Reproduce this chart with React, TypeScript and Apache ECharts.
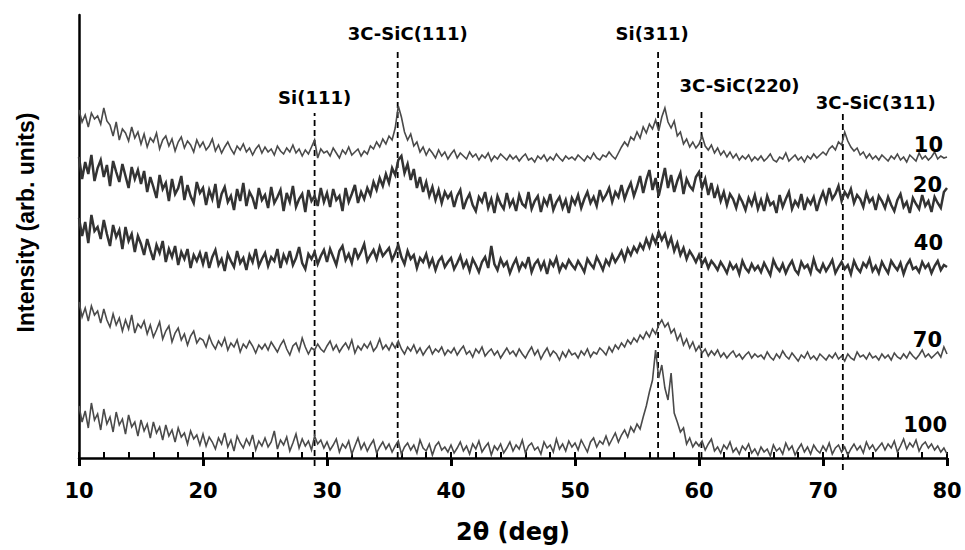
import React, { useEffect, useRef } from "react";
import * as echarts from "echarts";

// XRD scan grid (2θ, degrees)
const scanStart = 10;
const scanStep = 0.25;

const sampleNames = ["10", "20", "40", "70", "100"];

// Intensities (arb. units, offset per sample) on the scan grid, 10° → 80°
const counts10 = [
  348, 336, 343, 331, 345, 339, 342, 334, 350, 337, 333, 322, 336, 318, 329, 325, 317, 331, 320, 326,
  314, 324, 311, 320, 316, 325, 309, 318, 322, 312, 319, 307, 316, 321, 310, 317, 313, 306, 318, 311,
  316, 308, 312, 319, 307, 313, 305, 311, 316, 309, 304, 312, 308, 314, 306, 310, 303, 309, 313, 305,
  311, 306, 309, 303, 312, 307, 304, 310, 306, 313, 305, 309, 302, 308, 304, 311, 318, 300, 309, 305,
  307, 302, 310, 305, 300, 308, 304, 311, 303, 306, 309, 302, 307, 304, 312, 309, 316, 311, 319, 314,
  322, 318, 330, 352, 341, 326, 318, 324, 312, 316, 306, 311, 303, 309, 305, 300, 308, 302, 306, 299,
  304, 308, 300, 305, 302, 299, 306, 301, 304, 298, 303, 300, 305, 297, 302, 299, 304, 301, 298, 303,
  299, 302, 297, 301, 304, 298, 300, 296, 302, 299, 303, 297, 301, 298, 304, 300, 297, 302, 299, 301,
  298, 303, 300, 297, 302, 299, 305, 300, 298, 303, 301, 306, 302, 299, 305, 311, 316, 312, 321, 318,
  326, 320, 331, 325, 334, 329, 338, 327, 341, 350, 336, 330, 337, 322, 326, 314, 319, 311, 316, 310,
  314, 322, 312, 308, 313, 305, 310, 303, 307, 301, 306, 300, 304, 298, 302, 299, 303, 297, 301, 298,
  302, 297, 300, 304, 298, 296, 301, 299, 305, 297, 300, 303, 298, 301, 296, 302, 299, 304, 300, 303,
  306, 303, 309, 312, 308, 316, 313, 326, 317, 311, 307, 310, 303, 306, 300, 304, 299, 302, 298, 303,
  300, 297, 302, 299, 304, 298, 301, 296, 303, 300, 297, 305, 299, 302, 298, 301, 306, 299, 302, 300,
  301,
];

const counts20 = [
  301, 279, 296, 284, 303, 277, 290, 298, 281, 293, 272, 297, 286, 276, 294, 282, 270, 291, 279, 288,
  274, 287, 266, 281, 271, 260, 283, 269, 275, 257, 279, 264, 270, 282, 258, 273, 262, 255, 276, 265,
  270, 253, 268, 259, 274, 250, 264, 271, 256, 262, 248, 269, 257, 275, 252, 266, 260, 249, 270, 258,
  263, 250, 271, 255, 261, 268, 247, 265, 256, 272, 251, 259, 264, 246, 268, 257, 262, 252, 270, 256,
  265, 251, 269, 258, 262, 247, 270, 256, 264, 273, 255, 266, 259, 270, 263, 276, 268, 280, 272, 284,
  275, 290, 283, 298, 302, 285, 294, 278, 289, 270, 281, 266, 276, 262, 271, 258, 268, 255, 266, 260,
  265, 251, 262, 268, 249, 258, 264, 253, 247, 261, 256, 266, 250, 259, 245, 262, 254, 249, 265, 252,
  258, 247, 263, 254, 251, 266, 249, 257, 262, 246, 259, 253, 264, 248, 256, 261, 250, 258, 245, 260,
  254, 263, 250, 259, 266, 255, 261, 252, 268, 258, 263, 270, 256, 266, 261, 273, 259, 268, 275, 262,
  271, 282, 265, 278, 288, 268, 280, 262, 276, 290, 270, 283, 266, 277, 285, 264, 279, 272, 268, 281,
  286, 270, 279, 263, 275, 260, 270, 257, 266, 253, 264, 259, 250, 262, 256, 248, 260, 253, 263, 249,
  258, 247, 262, 253, 256, 245, 263, 251, 259, 266, 249, 257, 252, 264, 248, 259, 254, 261, 247, 258,
  266, 256, 270, 259, 264, 272, 257, 266, 261, 269, 255, 263, 259, 251, 265, 256, 260, 248, 262, 257,
  250, 261, 253, 247, 258, 264, 251, 256, 245, 260, 254, 249, 263, 252, 257, 246, 261, 255, 250, 266,
  270,
];

const counts40 = [
  240, 222, 236, 215, 243, 227, 231, 219, 238, 224, 212, 233, 221, 228, 209, 231, 217, 224, 206, 222,
  214, 203, 219, 208, 198, 213, 205, 217, 196, 209, 201, 212, 193, 206, 199, 209, 190, 203, 197, 205,
  194, 206, 190, 201, 208, 193, 199, 187, 204, 197, 191, 207, 195, 200, 188, 203, 196, 209, 192, 199,
  205, 192, 201, 197, 209, 190, 203, 196, 207, 193, 200, 211, 195, 189, 204, 199, 206, 194, 202, 208,
  196, 209, 201, 193, 207, 212, 198, 204, 195, 210, 200, 206, 214, 197, 203, 208, 199, 211, 202, 206,
  210, 198, 205, 213, 201, 194, 207, 199, 203, 190, 200, 196, 204, 192, 199, 188, 197, 201, 191, 196,
  200, 189, 195, 202, 191, 197, 187, 199, 193, 186, 196, 201, 190, 212, 194, 188, 199, 192, 196, 185,
  193, 199, 188, 195, 191, 201, 186, 194, 198, 189, 196, 184, 197, 192, 200, 187, 194, 190, 198, 193,
  189, 197, 192, 186, 199, 194, 190, 201, 195, 188, 198, 193, 203, 196, 201, 207, 198, 209, 203, 211,
  206, 214, 209, 219, 211, 222, 215, 226, 218, 224, 212, 220, 207, 215, 203, 210, 199, 207, 202, 196,
  203, 194, 199, 190, 197, 193, 188, 196, 191, 185, 195, 189, 193, 184, 197, 190, 186, 194, 188, 192,
  186, 195, 189, 183, 198, 191, 187, 194, 185, 192, 197, 188, 184, 196, 190, 193, 185, 199, 189, 186,
  194, 187, 192, 198, 185, 191, 196, 189, 193, 184, 197, 190, 186, 195, 191, 199, 187, 192, 185, 196,
  190, 185, 197, 192, 188, 195, 184, 193, 198, 189, 191, 186, 196, 190, 194, 185, 192, 197, 188, 193,
  191,
];

const counts70 = [
  156, 141, 150, 137, 152, 143, 147, 135, 149, 138, 131, 144, 133, 140, 127, 138, 129, 143, 125, 134,
  130, 137, 124, 133, 121, 128, 136, 119, 127, 132, 116, 125, 130, 118, 124, 113, 122, 127, 115, 120,
  118, 111, 122, 114, 109, 117, 112, 120, 108, 115, 111, 118, 106, 114, 110, 117, 112, 105, 113, 109,
  114, 108, 116, 111, 106, 113, 118, 109, 103, 112, 115, 107, 120, 111, 104, 110, 108, 114, 109, 106,
  112, 117, 108, 113, 106, 111, 115, 109, 118, 105, 112, 108, 114, 110, 116, 107, 111, 119, 109, 113,
  108, 115, 110, 117, 109, 104, 111, 107, 113, 105, 110, 103, 108, 112, 104, 109, 106, 111, 103, 108,
  105, 110, 103, 108, 112, 104, 107, 101, 109, 105, 111, 102, 106, 109, 103, 107, 100, 105, 110, 104,
  107, 102, 109, 104, 100, 106, 111, 103, 108, 99, 105, 110, 102, 107, 104, 98, 106, 101, 108, 103,
  105, 100, 107, 103, 109, 101, 106, 104, 110, 107, 103, 111, 106, 113, 109, 115, 111, 118, 114, 120,
  116, 123, 119, 126, 121, 129, 124, 133, 138, 131, 135, 125, 129, 118, 124, 113, 119, 110, 116, 107,
  112, 105, 109, 102, 107, 103, 108, 101, 105, 100, 104, 107, 101, 104, 99, 103, 106, 100, 104, 101,
  103, 99, 106, 101, 98, 104, 100, 107, 102, 99, 105, 101, 97, 103, 100, 106, 99, 102, 98, 104,
  101, 98, 103, 100, 105, 99, 102, 97, 104, 100, 98, 106, 101, 103, 99, 105, 100, 102, 98, 104,
  100, 103, 98, 105, 101, 99, 104, 100, 106, 102, 99, 103, 108, 101, 104, 100, 103, 106, 101, 111,
  104,
];

const counts100 = [
  52, 36, 47, 30, 55, 38, 44, 28, 49, 34, 41, 26, 46, 33, 39, 24, 43, 31, 36, 22,
  38, 27, 34, 20, 36, 25, 31, 18, 33, 22, 28, 16, 30, 21, 25, 14, 27, 19, 23, 13,
  24, 12, 21, 16, 9, 20, 14, 25, 11, 18, 7, 22, 15, 10, 19, 13, 23, 8, 17, 12,
  20, 11, 16, 27, 9, 18, 13, 21, 7, 15, 24, 10, 19, 12, 17, 8, 22, 14, 18, 10,
  16, 8, 13, 19, 6, 14, 10, 17, 4, 12, 20, 9, 15, 7, 13, 18, 5, 11, 16, 9,
  14, 6, 12, 17, 4, 11, 15, 8, 13, 5, 18, 10, 7, 14, 3, 12, 16, 8, 11, 6,
  13, 5, 10, 16, 7, 12, 4, 14, 9, 17, 6, 11, 15, 3, 12, 8, 14, 5, 10, 16,
  7, 13, 9, 18, 5, 12, 15, 8, 11, 4, 16, 10, 13, 6, 19, 9, 14, 7, 17, 11,
  15, 8, 18, 12, 6, 16, 20, 11, 17, 14, 22, 13, 19, 25, 16, 23, 28, 21, 31, 26,
  34, 29, 41, 52, 66, 78, 108, 80, 93, 70, 58, 85, 45, 36, 26, 30, 14, 20, 11, 16,
  12, 17, 8, 14, 19, 7, 11, 5, 13, 9, 16, 6, 10, 4, 12, 8, 14, 5, 9, 3,
  11, 6, 9, 2, 13, 7, 10, 4, 15, 8, 12, 3, 9, 14, 6, 11, 4, 13, 8, 5,
  12, 7, 15, 4, 10, 13, 6, 11, 3, 9, 14, 8, 12, 5, 16, 9, 13, 7, 11, 15,
  8, 14, 10, 17, 6, 12, 19, 9, 15, 11, 18, 7, 13, 16, 10, 14, 8, 12, 6, 10,
  4,
];

const sampleCounts = [counts10, counts20, counts40, counts70, counts100];

// Reference reflections
const peakNames = ["Si(111)", "3C-SiC(111)", "Si(311)", "3C-SiC(220)", "3C-SiC(311)"];
const peakAngles = [29.0, 35.7, 56.7, 60.2, 71.6];
const peakLineTops = [345, 409, 408, 350, 345];
const peakLineBottoms = [-8, 0, 0, 0, -12];

// Presentation
const traceWidths = [1.6, 2.5, 2.5, 1.6, 1.6];
const traceColors = ["#4a4a4a", "#333333", "#333333", "#4a4a4a", "#4a4a4a"];
const endLabelOffsets = [[-4, -12], [-5, -3], [-4, -24], [-5, -14], [0, -29]];
const peakLabelOffsets = [[0, -7], [10, -7], [-6, -8], [38, -14], [33, -2]];

const boldWide = { fontFamily: "DejaVu Sans", fontWeight: "bold" as const, color: "#000" };

export default function App() {
  const ref = useRef<HTMLDivElement>(null);

  useEffect(() => {
    if (!ref.current) return;
    const chart = echarts.init(ref.current, undefined, { renderer: "svg" });

    const traces = sampleNames.map((name, k) => ({
      name,
      type: "line" as const,
      xAxisIndex: 0,
      yAxisIndex: 0,
      showSymbol: false,
      z: 3,
      lineStyle: { width: traceWidths[k], color: traceColors[k], join: "miter" },
      data: sampleCounts[k].map((v, i) => [scanStart + i * scanStep, v]),
      endLabel: {
        show: true,
        formatter: name,
        distance: 0,
        align: "right",
        verticalAlign: "middle",
        offset: endLabelOffsets[k],
        fontSize: 21,
        ...boldWide,
      },
    }));

    const peakLines = peakNames.map((name, k) => ({
      name,
      type: "line" as const,
      xAxisIndex: 0,
      yAxisIndex: 0,
      clip: false,
      z: 2,
      showSymbol: true,
      symbolSize: 0,
      lineStyle: { type: [6, 4], width: 1.8, color: "#000" },
      data: [
        { value: [peakAngles[k], peakLineBottoms[k]], label: { show: false } },
        {
          value: [peakAngles[k], peakLineTops[k]],
          label: {
            show: true,
            formatter: name,
            position: "top",
            distance: 0,
            offset: peakLabelOffsets[k],
            fontSize: 18,
            ...boldWide,
          },
        },
      ],
    }));

    chart.setOption({
      animation: false,
      backgroundColor: "#fff",
      grid: { left: 79, right: 18, top: 15, bottom: 92, containLabel: false, outerBoundsMode: "none" },
      xAxis: [
        {
          type: "value",
          position: "bottom",
          min: 10,
          max: 80,
          interval: 10,
          axisLine: { show: true, onZero: false, lineStyle: { color: "#000", width: 2.5 } },
          axisTick: { show: true, inside: false, length: 8, lineStyle: { color: "#000", width: 3 } },
          axisLabel: { fontSize: 21, margin: 22, ...boldWide },
          splitLine: { show: false },
          name: "2θ (deg)",
          nameLocation: "middle",
          nameGap: 62,
          nameTextStyle: { fontSize: 24, ...boldWide },
        },
        {
          type: "value",
          position: "bottom",
          min: 10,
          max: 80,
          interval: 2,
          axisLine: { show: false, onZero: false },
          axisTick: { show: true, inside: true, length: 6, lineStyle: { color: "#000", width: 2 } },
          axisLabel: { show: false },
          splitLine: { show: false },
        },
      ],
      yAxis: {
        type: "value",
        min: 0,
        max: 443,
        axisLine: { show: true, onZero: false, lineStyle: { color: "#000", width: 2.5 } },
        axisTick: { show: false },
        axisLabel: { show: false },
        splitLine: { show: false },
        name: "Intensity (arb. units)",
        nameLocation: "middle",
        nameGap: 42,
        nameRotate: 90,
        nameTextStyle: {
          fontFamily: "Liberation Sans",
          fontWeight: "bold",
          fontSize: 23,
          color: "#000",
          padding: [0, 0, 0, 28],
        },
      },
      series: [...peakLines, ...traces],
    });

    return () => chart.dispose();
  }, []);

  return (
    <div
      ref={ref}
      style={{ position: "fixed", left: 0, top: 0, width: 965, height: 550, background: "#fff" }}
    />
  );
}
